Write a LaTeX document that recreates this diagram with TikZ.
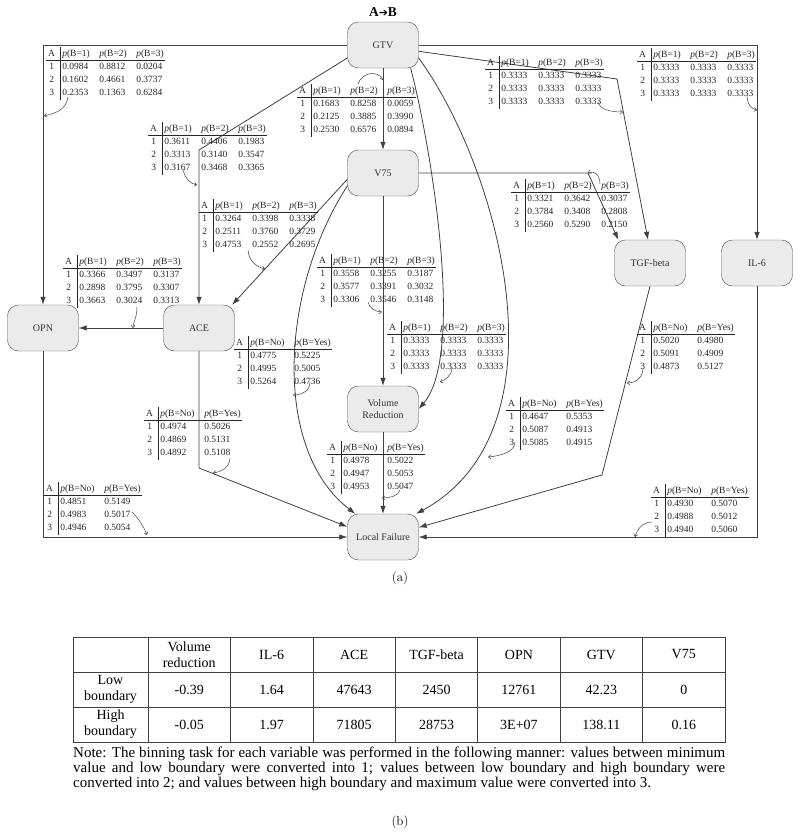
\documentclass[tikz,border=0pt]{standalone}
\usepackage{fontspec}
\newfontfamily\tnr{Liberation Serif}
\newfontfamily\dvs{DejaVu Sans}
\usetikzlibrary{arrows.meta}

% conditional probability tables (three states / two states of B)
\newcommand{\cptthree}[9]{%
  \begin{tabular}{@{\hspace{2pt}}c@{\hspace{5pt}}|@{\hspace{2pt}}p{35pt}@{\hspace{2pt}}p{35pt}@{\hspace{2pt}}l@{\hspace{1pt}}}
    A & \textit{p}(B=1) & \textit{p}(B=2) & \textit{p}(B=3)\\ \hline
    1 & #1 & #2 & #3\\
    2 & #4 & #5 & #6\\
    3 & #7 & #8 & #9
  \end{tabular}}
\newcommand{\cpttwo}[6]{%
  \begin{tabular}{@{\hspace{2pt}}c@{\hspace{5pt}}|@{\hspace{2pt}}p{42pt}@{\hspace{2pt}}l@{\hspace{1pt}}}
    A & \textit{p}(B=No) & \textit{p}(B=Yes)\\ \hline
    1 & #1 & #2\\
    2 & #3 & #4\\
    3 & #5 & #6
  \end{tabular}}

\begin{document}
\begin{tikzpicture}[x=1pt, y=-1pt,
  var/.style={draw=black!70, fill=black!8, rounded corners=11pt,
    minimum width=71pt, minimum height=46pt, inner sep=1pt, align=center,
    text=black!80, font=\tnr\fontsize{10}{12}\selectfont},
  cpt/.style={anchor=north west, inner sep=0pt, text=black!85,
    font=\tnr\fontsize{9.5}{13}\selectfont},
  link/.style={draw=black!75, line width=0.8pt, -{Latex[length=8pt,width=5.5pt]}},
  ptr/.style={draw=black!75, line width=0.5pt, -{Straight Barb[length=2.5pt,width=4pt]}},
  cell/.style={font=\tnr\fontsize{14}{16}\selectfont, align=center, inner sep=0pt}]
  \useasboundingbox (0,0) rectangle (800,838);

  % (a) the Bayesian network
  \node[font=\tnr\bfseries\fontsize{13.5}{15}\selectfont] (ttl) at (383,12)
    {A{\dvs\fontsize{11}{13}\selectfont ➔}B};
  \node[var] (gtv) at (383,45) {GTV};
  \node[var] (v75) at (383,173) {V75};
  \node[var] (opn) at (43,328) {OPN};
  \node[var] (ace) at (199,328) {ACE};
  \node[var] (tgf) at (650,263) {TGF-beta};
  \node[var] (il6) at (757,263) {IL-6};
  \node[var] (vr) at (383,409) {Volume\\Reduction};
  \node[var] (lf) at (383,537) {Local Failure};

  % links between the variables
  \draw[link] (gtv.west) -| (opn.north);
  \draw[link] (opn.south) |- (lf.west);
  \draw[link] (gtv.east) -| (il6.north);
  \draw[link] (il6.south) |- (lf.east);
  \draw[link] (gtv) -- (v75);
  \draw[link] (gtv.200) -- (ace.north |- 0,150) -- (ace.north);
  \draw[link] (v75.190) -- (ace.35);
  \draw[link] (ace.west) -- (opn.east);
  \draw[link] (ace.south) -- (ace.south |- 0,468) -- (lf.164);
  \draw[link] (v75.200) .. controls (280,290) and (272,450) .. (lf.140);
  \draw[link] (v75) -- (vr);
  \draw[link] (v75.east) -- (588,173) -- ([xshift=4pt]tgf.north west);
  \draw[link] (gtv.-10) -- (617,79) -- ([xshift=-2pt]tgf.north);
  \draw[link] (gtv.-40) .. controls (432,150) and (465,355) .. (vr.east);
  \draw[link] (gtv.-20) .. controls (500,170) and (570,430) .. (lf.35);
  \draw[link] (tgf.south) -- (602,475) -- (lf.15);
  \draw[link] (vr) -- (lf);

  % probability tables, one per link
  \node[cpt] (t1) at (46,47) {\cptthree{0.0984}{0.8812}{0.0204}{0.1602}{0.4661}{0.3737}{0.2353}{0.1363}{0.6284}};
  \node[cpt] (t2) at (148,122) {\cptthree{0.3611}{0.4406}{0.1983}{0.3313}{0.3140}{0.3547}{0.3167}{0.3468}{0.3365}};
  \node[cpt] (t3) at (297,84) {\cptthree{0.1683}{0.8258}{0.0059}{0.2125}{0.3885}{0.3990}{0.2530}{0.6576}{0.0894}};
  \node[cpt] (t4) at (485,56) {\cptthree{0.3333}{0.3333}{0.3333}{0.3333}{0.3333}{0.3333}{0.3333}{0.3333}{0.3333}};
  \node[cpt] (t5) at (637,48) {\cptthree{0.3333}{0.3333}{0.3333}{0.3333}{0.3333}{0.3333}{0.3333}{0.3333}{0.3333}};
  \node[cpt] (t6) at (511,179) {\cptthree{0.3321}{0.3642}{0.3037}{0.3784}{0.3408}{0.2808}{0.2560}{0.5290}{0.2150}};
  \node[cpt] (t7) at (199,199) {\cptthree{0.3264}{0.3398}{0.3338}{0.2511}{0.3760}{0.3729}{0.4753}{0.2552}{0.2695}};
  \node[cpt] (t8) at (63,255) {\cptthree{0.3366}{0.3497}{0.3137}{0.2898}{0.3795}{0.3307}{0.3663}{0.3024}{0.3313}};
  \node[cpt] (t9) at (317,254) {\cptthree{0.3558}{0.3255}{0.3187}{0.3577}{0.3391}{0.3032}{0.3306}{0.3546}{0.3148}};
  \node[cpt] (t10) at (387,321) {\cptthree{0.3333}{0.3333}{0.3333}{0.3333}{0.3333}{0.3333}{0.3333}{0.3333}{0.3333}};
  \node[cpt] (t11) at (234,336) {\cpttwo{0.4775}{0.5225}{0.4995}{0.5005}{0.5264}{0.4736}};
  \node[cpt] (t12) at (144,407) {\cpttwo{0.4974}{0.5026}{0.4869}{0.5131}{0.4892}{0.5108}};
  \node[cpt] (t13) at (44,482) {\cpttwo{0.4851}{0.5149}{0.4983}{0.5017}{0.4946}{0.5054}};
  \node[cpt] (t14) at (327,441) {\cpttwo{0.4978}{0.5022}{0.4947}{0.5053}{0.4953}{0.5047}};
  \node[cpt] (t15) at (506,397) {\cpttwo{0.4647}{0.5353}{0.5087}{0.4913}{0.5085}{0.4915}};
  \node[cpt] (t16) at (637,321) {\cpttwo{0.5020}{0.4980}{0.5091}{0.4909}{0.4873}{0.5127}};
  \node[cpt] (t17) at (651,484) {\cpttwo{0.4930}{0.5070}{0.4988}{0.5012}{0.4940}{0.5060}};

  % small pointers from each table to its link
  \draw[ptr] (68,97) .. controls (66,110) and (56,113) .. (44,116);
  \draw[ptr] (183,170) .. controls (186,180) and (190,183) .. (197,185);
  \draw[ptr] (358,84) .. controls (362,72) and (378,70) .. (383,80);
  \draw[ptr] (598,102) .. controls (600,110) and (612,112) .. (623,112);
  \draw[ptr] (747,95) .. controls (747,105) and (752,109) .. (757,110);
  \draw[ptr] (600,184) .. controls (600,175) and (594,170) .. (588,173);
  \draw[ptr] (248,250) .. controls (249,262) and (257,267) .. (265,269);
  \draw[ptr] (137,307) .. controls (137,318) and (133,322) .. (133,328);
  \draw[ptr] (368,302) .. controls (369,308) and (376,312) .. (382,312);
  \draw[ptr] (452,367) .. controls (452,376) and (445,380) .. (440,382);
  \draw[ptr] (310,382) .. controls (310,392) and (300,395) .. (293,395);
  \draw[ptr] (230,458) .. controls (230,468) and (220,472) .. (213,473);
  \draw[ptr] (132,512) .. controls (138,518) and (143,525) .. (147,535);
  \draw[ptr] (400,490) .. controls (398,496) and (390,498) .. (382,498);
  \draw[ptr] (515,442) .. controls (515,452) and (500,456) .. (488,457);
  \draw[ptr] (643,368) .. controls (643,378) and (635,383) .. (627,383);
  \draw[ptr] (652,522) .. controls (642,522) and (637,530) .. (635,537);

  \node[font=\fontsize{13}{15}\selectfont] (capa) at (400,578) {(a)};

  % (b) binning boundaries
  \draw[black!75, line width=0.6pt] (73,637) rectangle (725,742);
  \foreach \k in {0,...,6}
    \draw[black!75, line width=0.6pt] ({148+82.43*\k},637) -- ++(0,105);
  \foreach \y in {672,707}
    \draw[black!75, line width=0.6pt] (73,\y) -- (725,\y);
  \node[cell] (rlo) at (110.5,689.5) {Low\\boundary};
  \node[cell] (rhi) at (110.5,724.5) {High\\boundary};
  \foreach \t [count=\i] in {{Volume\\reduction},IL-6,ACE,TGF-beta,OPN,GTV,V75}
    \node[cell] (hd\i) at ({148+82.43*(\i-0.5)},654.5) {\t};
  \foreach \t [count=\i] in {-0.39,1.64,47643,2450,12761,42.23,0}
    \node[cell] (lo\i) at ({148+82.43*(\i-0.5)},689.5) {\t};
  \foreach \t [count=\i] in {-0.05,1.97,71805,28753,3E+07,138.11,0.16}
    \node[cell] (hi\i) at ({148+82.43*(\i-0.5)},724.5) {\t};
  \node[anchor=north west, inner sep=0pt, align=left,
    font=\tnr\fontsize{15}{15}\selectfont] (note) at (73,747)
    {\makebox[652pt][s]{Note: The binning task for each variable was performed in the following manner: values between minimum}\\
     \makebox[652pt][s]{value and low boundary were converted into 1; values between low boundary and high boundary were}\\
     converted into 2; and values between high boundary and maximum value were converted into 3.};

  \node[font=\fontsize{13}{15}\selectfont] (capb) at (400,822) {(b)};
\end{tikzpicture}
\end{document}
